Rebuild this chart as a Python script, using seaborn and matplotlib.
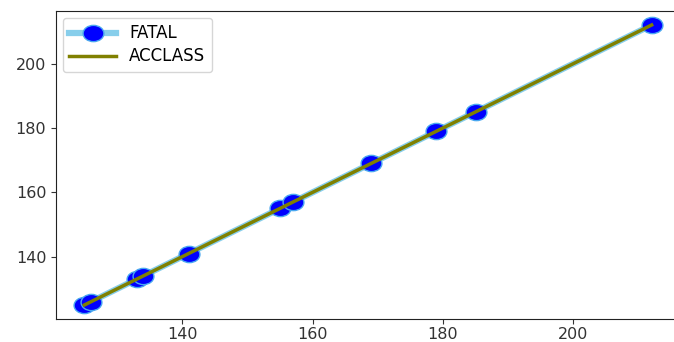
import matplotlib
matplotlib.use("Agg")
import matplotlib.pyplot as plt
from matplotlib.path import Path
from matplotlib.transforms import Affine2D
import seaborn as sns
import pandas as pd

# Accident counts per class, plotted against themselves
fatal_x = [125, 126, 133, 134, 141, 155, 157, 169, 179, 185, 212]
fatal_y = [125, 126, 133, 134, 141, 155, 157, 169, 179, 185, 212]
acclass_x = [125, 126, 133, 134, 141, 155, 157, 169, 179, 185, 212]
acclass_y = [125, 126, 133, 134, 141, 155, 157, 169, 179, 185, 212]
x_ticks = [140, 160, 180, 200]
y_ticks = [140, 160, 180, 200]

df = pd.DataFrame({"x": fatal_x, "FATAL": fatal_y, "ACCLASS": acclass_y})

# slightly flattened circle used as the point marker
oval = Path.unit_circle().transformed(Affine2D().scale(1.0, 0.78))

fig = plt.figure(figsize=(6.74, 3.42), dpi=100)
ax = fig.add_axes([56 / 674, (342 - 319) / 342, 624 / 674, 308 / 342])

sns.lineplot(data=df, x="x", y="FATAL", ax=ax, marker=oval, markersize=15,
             markerfacecolor="blue", markeredgecolor="#4aa8f0", markeredgewidth=1.0,
             color="skyblue", linewidth=4.5, label="FATAL", sort=False)
sns.lineplot(x=acclass_x, y=acclass_y, ax=ax, color="olive", linewidth=2.5,
             label="ACCLASS", sort=False)

ax.set_xticks(x_ticks)
ax.set_yticks(y_ticks)
ax.set_xlabel("")
ax.set_ylabel("")
ax.tick_params(labelsize=11.5, colors="#333333", labelcolor="#333333")
ax.tick_params(axis="x", pad=2.0)
for s in ax.spines.values():
    s.set_color("#222222")
ax.spines["right"].set_visible(False)
ax.legend(loc="upper left", fontsize=12, handlelength=2.8, borderaxespad=0.4,
          labelspacing=0.3, handletextpad=0.8)

fig.savefig("out.png", dpi=100)
